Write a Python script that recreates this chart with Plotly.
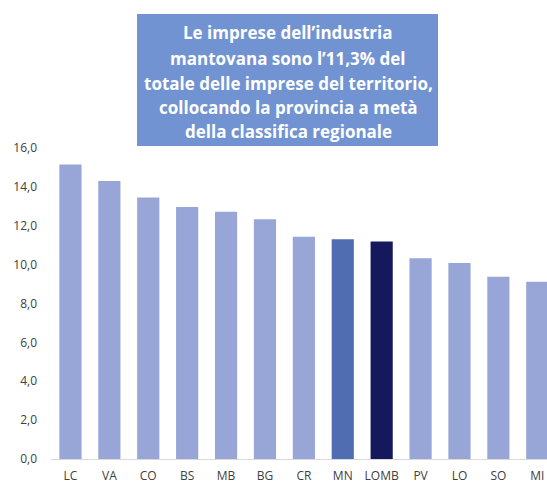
import plotly.graph_objects as go

# Quota delle imprese industriali sul totale per provincia (%)
province = ["LC", "VA", "CO", "BS", "MB", "BG", "CR", "MN", "LOMB", "PV", "LO", "SO", "MI"]
quota = [15.15, 14.3, 13.45, 12.97, 12.72, 12.34, 11.43, 11.3, 11.19, 10.33, 10.09, 9.37, 9.12]

y_ticks = [0, 2, 4, 6, 8, 10, 12, 14, 16]

titolo = [
    "Le imprese dell\u2019industria",
    "mantovana sono l\u201911,3% del",
    "totale delle imprese del territorio,",
    "collocando la provincia a metà",
    "della classifica regionale",
]

LIGHT = "#97A5D7"
MN_COL = "#4F6DB0"
LOMB_COL = "#16185E"
colori = [MN_COL if p == "MN" else LOMB_COL if p == "LOMB" else LIGHT for p in province]

fig = go.Figure(
    go.Bar(x=province, y=quota, marker=dict(color=colori, line=dict(width=0)))
)

W, H = 547, 484
L, R, T, B = 51, 0, 148, 25
plot_w = W - L - R
plot_h = H - T - B

def px_x(x):
    return (x - L) / plot_w

def px_y(y):
    return (H - B - y) / plot_h

fig.add_shape(
    type="rect", xref="paper", yref="paper",
    x0=px_x(137), x1=px_x(438), y0=px_y(146), y1=px_y(14),
    fillcolor="#7293D2", line=dict(width=0), layer="above",
)

righe_y = [33, 58, 83, 107.5, 131]
for testo, yy in zip(titolo, righe_y):
    fig.add_annotation(
        text=testo, xref="paper", yref="paper",
        x=px_x(288), y=px_y(yy), xanchor="center", yanchor="middle",
        showarrow=False,
        font=dict(family="Open Sans", size=17, color="white", weight="bold"),
    )

fig.update_layout(
    width=W, height=H,
    margin=dict(l=L, r=R, t=T, b=B, autoexpand=False),
    paper_bgcolor="white", plot_bgcolor="white",
    separators=",.",
    bargap=0.43,
    showlegend=False,
    font=dict(family="Open Sans", size=12, color="#404040"),
)
fig.update_xaxes(
    range=[-0.5, 12.25],
    showgrid=False, showline=True, linecolor="#D9D9D9", linewidth=1,
    ticks="", ticklabelstandoff=6,
    tickfont=dict(family="Open Sans", size=12, color="#404040"),
)
fig.update_yaxes(
    range=[0, 16], tickvals=y_ticks, tickformat=".1f",
    showgrid=False, zeroline=False, showline=False,
    ticks="", ticklabelstandoff=13,
    tickfont=dict(family="Open Sans", size=12, color="#404040"),
)

fig.write_html("out.html")
